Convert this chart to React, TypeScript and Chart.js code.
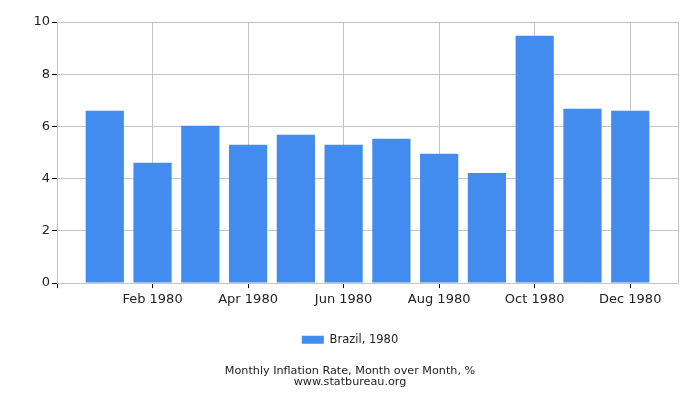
import { useEffect, useRef } from 'react'
import Chart from 'chart.js/auto'

const months = ['Jan 1980', 'Feb 1980', 'Mar 1980', 'Apr 1980', 'May 1980', 'Jun 1980',
  'Jul 1980', 'Aug 1980', 'Sep 1980', 'Oct 1980', 'Nov 1980', 'Dec 1980']
const inflation = [6.60, 4.61, 6.03, 5.30, 5.68, 5.30, 5.53, 4.95, 4.22, 9.47, 6.68, 6.60]
const yTicks = [0, 2, 4, 6, 8, 10]
const seriesLabel = 'Brazil, 1980'
const titleLines = ['Monthly Inflation Rate, Month over Month, %', 'www.statbureau.org']

const FONT = "'DejaVu Sans', Verdana, sans-serif"
const GRID = '#c4c4c4'
const TEXT = '#222'

export default function App(){
  const ref = useRef<HTMLCanvasElement|null>(null)
  useEffect(()=>{
    if(!ref.current) return
    const ctx = ref.current.getContext('2d')!
    // months sit at 1..12 on a 0..13 axis, labelled every other month
    const last = months.length + 1
    const xTickValues = [0, ...months.map((_, i) => i + 1).filter(v => v % 2 === 0), last]
    const chart = new Chart(ctx, {
      type: 'bar',
      data: {
        datasets: [{
          label: seriesLabel,
          data: inflation.map((v, i) => ({ x: i + 1, y: v })),
          backgroundColor: '#428bef',
          borderWidth: 0,
          barPercentage: 0.8,
          categoryPercentage: 1,
        }]
      },
      options: {
        responsive: true,
        maintainAspectRatio: false,
        animation: false,
        layout: { padding: { left: 0, right: 0, top: 22, bottom: 0 } },
        scales: {
          x: {
            type: 'linear',
            offset: false,
            min: 0,
            max: last,
            afterBuildTicks: (axis: any) => { axis.ticks = xTickValues.map(v => ({ value: v })) },
            afterFit: (axis: any) => { axis.height = 41 },
            grid: {
              offset: false,
              color: GRID,
              tickColor: (c: any) => c.tick && c.tick.value === last ? 'rgba(0,0,0,0)' : '#000',
              tickLength: 5,
            },
            border: { color: GRID },
            ticks: {
              autoSkip: false,
              maxRotation: 0,
              padding: 4,
              color: TEXT,
              font: { family: FONT, size: 13 },
              callback: (v: any) => months[Number(v) - 1] ?? '',
            },
          },
          y: {
            min: 0,
            max: 10,
            afterBuildTicks: (axis: any) => { axis.ticks = yTicks.map(v => ({ value: v })) },
            afterFit: (axis: any) => { axis.width = 57 },
            grid: { color: GRID, tickColor: '#000', tickLength: 5 },
            border: { color: GRID },
            ticks: {
              padding: 2,
              color: TEXT,
              font: { family: FONT, size: 13 },
            },
          },
          // empty right-hand gutter so the legend and titles centre on the full width
          gutter: {
            type: 'linear',
            position: 'right',
            afterFit: (axis: any) => { axis.width = 22 },
            grid: { display: false },
            border: { display: false },
            ticks: { display: false },
          },
        },
        plugins: {
          legend: {
            position: 'bottom',
            labels: {
              boxWidth: 22,
              boxHeight: 8,
              color: TEXT,
              font: { family: FONT, size: 11.5 },
            },
          },
          title: {
            display: true,
            position: 'bottom',
            text: titleLines,
            color: TEXT,
            font: { family: FONT, size: 11.2, weight: 'normal', lineHeight: 1 },
            padding: { top: 10, bottom: 12 },
          },
          tooltip: { enabled: false },
        },
      }
    })
    return ()=> chart.destroy()
  }, [])
  return (
    <div style={{ position: 'absolute', left: 0, top: 0, width: 700, height: 400, background: '#fff' }}>
      <canvas ref={ref}/>
    </div>
  )
}
